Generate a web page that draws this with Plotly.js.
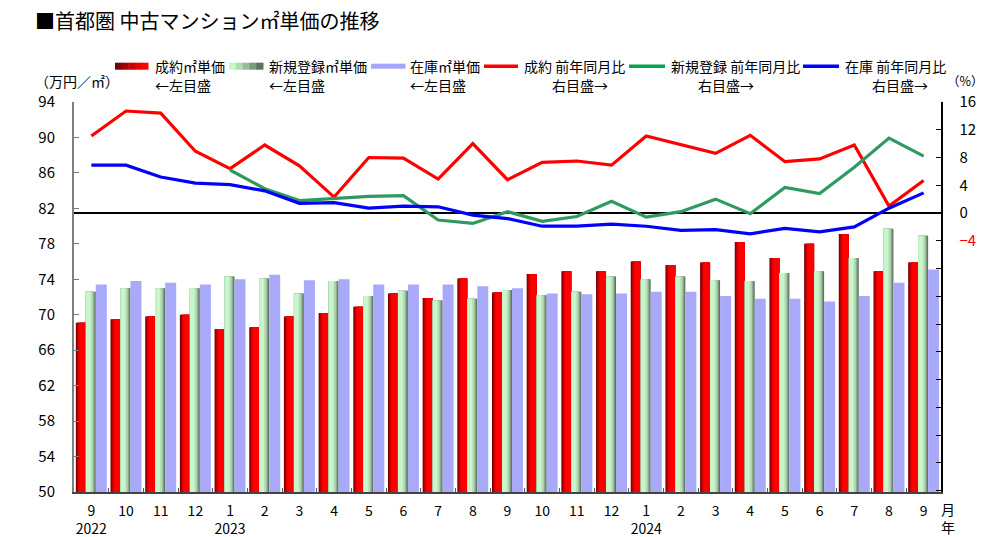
<!DOCTYPE html>
<html>
<head>
<meta charset="utf-8">
<script src="https://cdn.plot.ly/plotly-3.0.1.min.js"></script>
<style>
  body { margin: 0; background: #fff; }
  #chart { width: 988px; height: 537px; }
</style>
</head>
<body>
<div id="chart"></div>
<script>
// months, Sep 2022 - Sep 2024
var months = ['2022-09', '2022-10', '2022-11', '2022-12', '2023-01', '2023-02', '2023-03', '2023-04',
    '2023-05', '2023-06', '2023-07', '2023-08', '2023-09', '2023-10', '2023-11', '2023-12',
    '2024-01', '2024-02', '2024-03', '2024-04', '2024-05', '2024-06', '2024-07', '2024-08', '2024-09'];
var monthLabels = ['9', '10', '11', '12', '1', '2', '3', '4', '5', '6', '7', '8', '9',
    '10', '11', '12', '1', '2', '3', '4', '5', '6', '7', '8', '9'];
var yearLabels = ['2022', '', '', '', '2023', '', '', '', '', '', '', '', '',
    '', '', '', '2024', '', '', '', '', '', '', '', ''];

// 万円/㎡ (left axis)
var contractPrice = [69.1, 69.5, 69.8, 70.0, 68.4, 68.6, 69.8, 70.2, 70.9, 72.4, 71.9, 74.1, 72.5,
    74.6, 74.9, 74.9, 76.0, 75.6, 75.9, 78.2, 76.4, 78.0, 79.1, 74.9, 75.9];
var newListingPrice = [72.6, 73.0, 73.0, 73.0, 74.3, 74.1, 72.4, 73.8, 72.1, 72.7, 71.6, 71.8, 72.8,
    72.2, 72.6, 74.3, 74.0, 74.3, 73.9, 73.8, 74.7, 74.9, 76.4, 79.7, 78.9];
var stockPrice = [73.4, 73.8, 73.6, 73.4, 74.0, 74.5, 73.9, 74.0, 73.4, 73.4, 73.4, 73.2, 73.0,
    72.4, 72.3, 72.4, 72.6, 72.6, 72.1, 71.8, 71.8, 71.5, 72.1, 73.6, 75.1];

// 前年同月比 % (right axis)
var contractYoY = [11.1, 14.7, 14.4, 8.9, 6.4, 9.8, 6.8, 2.3, 8.0, 7.9, 4.9, 10.0, 4.8,
    7.3, 7.5, 6.9, 11.1, 9.8, 8.6, 11.2, 7.4, 7.8, 9.8, 1.0, 4.7];
var newListingYoY = [null, null, null, null, 6.2, 3.5, 1.8, 2.1, 2.4, 2.5, -1.0, -1.5, 0.2,
    -1.2, -0.5, 1.7, -0.6, 0.2, 2.0, -0.1, 3.7, 2.8, 6.6, 10.8, 8.2];
var stockYoY = [6.9, 6.9, 5.2, 4.3, 4.1, 3.2, 1.4, 1.5, 0.7, 1.0, 0.9, -0.3, -0.8,
    -1.9, -1.9, -1.6, -1.9, -2.5, -2.4, -3.0, -2.2, -2.7, -2.0, 0.7, 2.9];

var FONT = "'Noto Sans CJK JP', 'Noto Sans', sans-serif";

// plot area in pixels, used to place the hand-made legend
var L = 74, R = 941, T = 102.3, B = 492.3;
function px(x) { return (x - L) / (R - L); }
function py(y) { return (B - y) / (B - T); }

// fake the shaded bars by stacking a few narrower bars on top of each other
function shadedBars(name, values, layers) {
    return layers.map(function (l, i) {
        return {
            type: 'bar', x: months, y: values, name: name,
            offset: l[0], width: l[1],
            marker: { color: l[2], line: { width: 0 } },
            showlegend: false,
            hoverinfo: i === 0 ? 'x+y+name' : 'skip'
        };
    });
}

var p = 1 / 34.68; // one pixel in category units
var data = [].concat(
    shadedBars('成約㎡単価', contractPrice, [
        [-0.447, 0.288, '#7c0000'],
        [-0.447 + p, 0.288 - p, '#a80000'],
        [-0.447 + 2 * p, 0.288 - 2 * p, '#d20000'],
        [-0.447 + 3 * p, 0.288 - 3 * p, '#f20000'],
        [-0.447 + 4 * p, 0.288 - 4.5 * p, '#ff0000']
    ]),
    shadedBars('新規登録㎡単価', newListingPrice, [
        [-0.159, 0.288, '#5e735e'],
        [-0.159, 0.288 - p, '#7a957a'],
        [-0.159, 0.288 - 2 * p, '#98b89a'],
        [-0.159, 0.288 - 3 * p, '#b2dbb4'],
        [-0.159, 0.288 - 5 * p, '#c8f5cc']
    ]),
    shadedBars('在庫㎡単価', stockPrice, [
        [0.129, 0.317, '#a9a9fa']
    ]),
    [
        { type: 'scatter', mode: 'lines', x: months, y: contractYoY, yaxis: 'y2',
          name: '成約 前年同月比', line: { color: '#ff0000', width: 3.2 }, showlegend: false },
        { type: 'scatter', mode: 'lines', x: months, y: newListingYoY, yaxis: 'y2',
          name: '新規登録 前年同月比', line: { color: '#2f9a60', width: 3.2 }, showlegend: false },
        { type: 'scatter', mode: 'lines', x: months, y: stockYoY, yaxis: 'y2',
          name: '在庫 前年同月比', line: { color: '#0000ff', width: 3.2 }, showlegend: false }
    ]
);

var tickText = monthLabels.map(function (m, i) {
    return yearLabels[i] ? m + '<br>' + yearLabels[i] : m;
});

var rightVals = [], rightText = [];
for (var v = -40; v <= 16; v += 4) {
    rightVals.push(v);
    if (v < -4) rightText.push('');
    else if (v < 0) rightText.push('<span style="color:#ff0000">−' + (-v) + '</span>');
    else rightText.push(String(v));
}

// legend: [symbol x0, x1, kind, colors, line1 x, line1, line2 x, line2]
var legendItems = [
    [115, 148, 'bar', ['#7c0000', '#a00000', '#c80000', '#e80000', '#ff0000'], 153, '成約㎡単価', 153, '←左目盛'],
    [229, 263, 'bar', ['#c8f5cc', '#b0dcb2', '#98bc99', '#7e987e', '#5e735e'], 267, '新規登録㎡単価', 267, '←左目盛'],
    [371, 405, 'bar', ['#a5a5fa', '#a5a5fa', '#a5a5fa', '#a5a5fa', '#a5a5fa'], 408, '在庫㎡単価', 408, '←左目盛'],
    [484, 518, 'line', '#ff0000', 522, '成約 前年同月比', 550, '右目盛→'],
    [629, 665, 'line', '#00a550', 669, '新規登録 前年同月比', 696, '右目盛→'],
    [803, 839, 'line', '#0000ff', 843, '在庫 前年同月比', 870, '右目盛→']
];

var shapes = [];
var annotations = [];
legendItems.forEach(function (it) {
    if (it[2] === 'bar') {
        var n = it[3].length, w = (it[1] - it[0]) / n;
        var y0 = it[0] === 371 ? 64 : 63, y1 = it[0] === 371 ? 69 : 70;
        it[3].forEach(function (c, k) {
            shapes.push({ type: 'rect', xref: 'paper', yref: 'paper',
                x0: px(it[0] + k * w), x1: px(it[0] + (k + 1) * w + 0.5), y0: py(y1), y1: py(y0),
                fillcolor: c, line: { width: 0 } });
        });
    } else {
        shapes.push({ type: 'line', xref: 'paper', yref: 'paper',
            x0: px(it[0]), x1: px(it[1]), y0: py(66.5), y1: py(66.5),
            line: { color: it[3], width: 3.5 } });
    }
    annotations.push({ xref: 'paper', yref: 'paper', x: px(it[4]), y: py(66.5),
        xanchor: 'left', yanchor: 'middle', showarrow: false, text: it[5],
        font: { family: FONT, size: 14, color: '#000' } });
    annotations.push({ xref: 'paper', yref: 'paper', x: px(it[6]), y: py(85.5),
        xanchor: 'left', yanchor: 'middle', showarrow: false, text: it[7],
        font: { family: FONT, size: 14, color: '#000' } });
});

annotations.push(
    { xref: 'paper', yref: 'paper', x: px(33), y: py(81), xanchor: 'left', yanchor: 'middle',
      showarrow: false, text: '（万円／㎡）', font: { family: FONT, size: 14, color: '#000' } },
    { xref: 'paper', yref: 'paper', x: px(965), y: py(81), xanchor: 'center', yanchor: 'middle',
      showarrow: false, text: '（%）', font: { family: FONT, size: 12.5, color: '#000' } },
    { xref: 'paper', yref: 'paper', x: px(948), y: py(518), xanchor: 'center', yanchor: 'middle',
      showarrow: false, text: '月<br>年', font: { family: FONT, size: 14, color: '#000' } }
);

var layout = {
    width: 988,
    height: 537,
    margin: { l: L, r: 988 - R, t: T, b: 537 - B, pad: 0 },
    paper_bgcolor: '#fff',
    plot_bgcolor: '#fff',
    font: { family: FONT, size: 14, color: '#000' },
    title: {
        text: '■首都圏 中古マンション㎡単価の推移',
        x: 35 / 988, xanchor: 'left', xref: 'container',
        y: 1 - 22 / 537, yanchor: 'middle', yref: 'container',
        font: { family: FONT, size: 20, color: '#000' }
    },
    barmode: 'overlay',
    showlegend: false,
    xaxis: {
        type: 'category',
        range: [-0.5, 24.5],
        tickmode: 'array',
        tickvals: months,
        ticktext: tickText,
        tickangle: 0,
        tickson: 'boundaries',
        ticks: 'inside',
        ticklen: 4,
        tickcolor: '#555',
        showline: true,
        linecolor: '#444',
        linewidth: 2,
        showgrid: false,
        zeroline: false,
        ticklabelstandoff: 5,
        tickfont: { family: FONT, size: 14, color: '#000' }
    },
    yaxis: {
        range: [50, 94],
        dtick: 4,
        tick0: 50,
        ticks: 'inside',
        ticklen: 5,
        tickcolor: '#777',
        showline: true,
        linecolor: '#7f7f7f',
        linewidth: 2,
        showgrid: false,
        zeroline: false,
        ticklabelstandoff: 14,
        tickfont: { family: FONT, size: 15, color: '#000' }
    },
    yaxis2: {
        overlaying: 'y',
        side: 'right',
        range: [-40.2, 16],
        tickmode: 'array',
        tickvals: rightVals,
        ticktext: rightText,
        ticks: 'inside',
        ticklen: 5,
        tickcolor: '#000',
        showline: true,
        linecolor: '#000',
        linewidth: 1.5,
        showgrid: false,
        zeroline: true,
        zerolinecolor: '#000',
        zerolinewidth: 1.3,
        ticklabelstandoff: 14,
        tickfont: { family: FONT, size: 15, color: '#000' }
    },
    shapes: shapes,
    annotations: annotations
};

Plotly.newPlot('chart', data, layout, { displayModeBar: false, staticPlot: true });
</script>
</body>
</html>
